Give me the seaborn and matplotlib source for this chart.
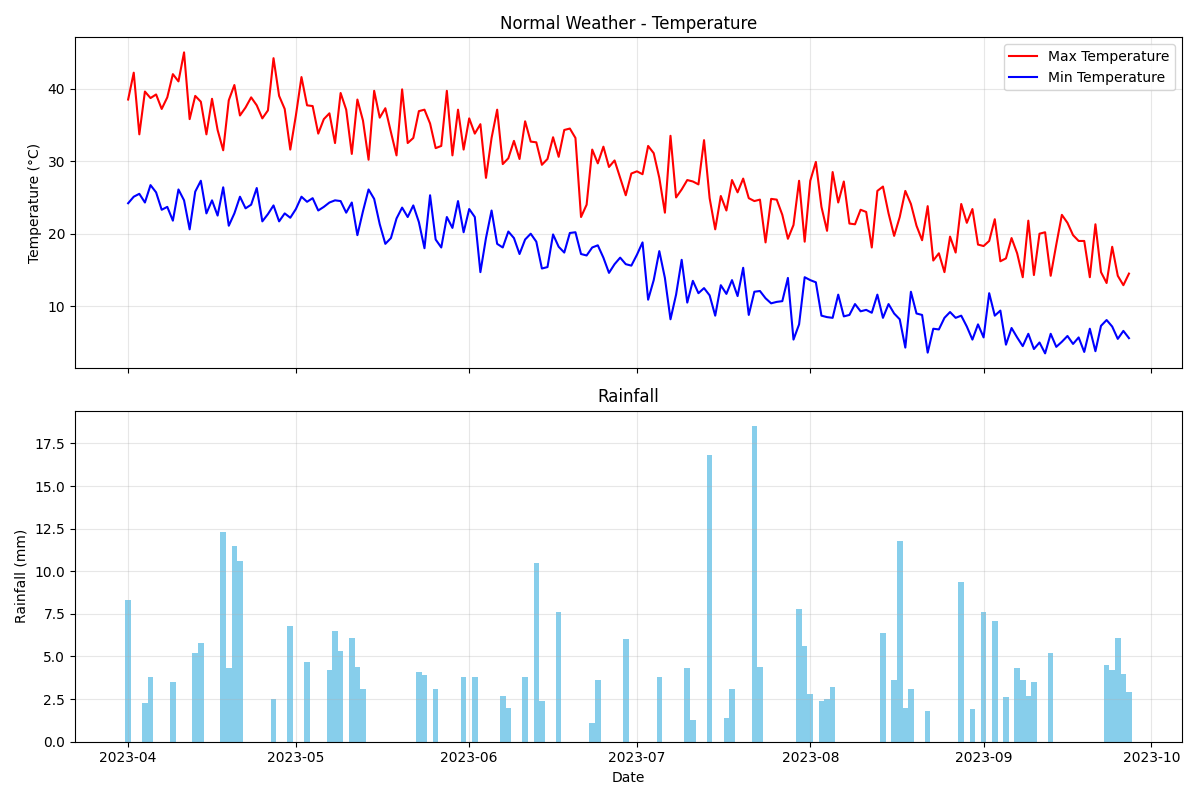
import pandas as pd
import matplotlib
matplotlib.use("Agg")
import matplotlib.pyplot as plt
import seaborn as sns

dates = pd.date_range("2023-04-01", periods=180, freq="D")

max_temp = [
    38.5, 42.2, 33.7, 39.6, 38.7, 39.2, 37.2, 38.8, 42.0, 41.0,
    45.0, 35.8, 39.0, 38.2, 33.7, 38.6, 34.3, 31.5, 38.4, 40.5,
    36.3, 37.4, 38.8, 37.7, 35.9, 37.0, 44.2, 39.0, 37.2, 31.6,
    36.3, 41.6, 37.7, 37.6, 33.8, 35.8, 36.6, 32.5, 39.4, 37.1,
    31.0, 38.5, 35.6, 30.2, 39.7, 36.0, 37.3, 34.0, 30.8, 39.9,
    32.5, 33.2, 36.9, 37.1, 35.2, 31.8, 32.1, 39.7, 30.8, 37.1,
    31.6, 35.9, 33.8, 35.1, 27.7, 33.2, 37.1, 29.6, 30.4, 32.8,
    30.3, 35.5, 32.7, 32.6, 29.5, 30.3, 33.3, 30.6, 34.3, 34.5,
    33.2, 22.3, 24.0, 31.6, 29.7, 32.0, 29.2, 30.1, 27.7, 25.3,
    28.3, 28.6, 28.2, 32.1, 31.1, 27.7, 22.9, 33.5, 25.0, 26.1,
    27.4, 27.2, 26.8, 32.9, 24.9, 20.6, 25.2, 23.2, 27.4, 25.7,
    27.6, 24.9, 24.5, 24.7, 18.8, 24.8, 24.7, 22.6, 19.3, 21.2,
    27.3, 18.9, 27.3, 29.9, 23.7, 20.4, 28.5, 24.3, 27.2, 21.4,
    21.3, 23.3, 23.0, 18.1, 25.9, 26.5, 22.8, 19.7, 22.3, 25.9,
    24.1, 21.1, 19.1, 23.8, 16.3, 17.3, 14.7, 19.6, 17.4, 24.1,
    21.5, 23.4, 18.5, 18.3, 19.0, 22.0, 16.2, 16.6, 19.4, 17.3,
    14.0, 21.8, 14.3, 20.0, 20.2, 14.2, 18.5, 22.6, 21.5, 19.8,
    19.0, 19.0, 14.0, 21.3, 14.7, 13.2, 18.2, 14.2, 12.9, 14.5,
]

min_temp = [
    24.2, 25.1, 25.5, 24.3, 26.7, 25.7, 23.3, 23.7, 21.8, 26.1,
    24.6, 20.6, 25.8, 27.3, 22.8, 24.6, 22.5, 26.4, 21.1, 22.8,
    25.1, 23.5, 24.0, 26.3, 21.7, 22.7, 23.9, 21.7, 22.8, 22.2,
    23.4, 25.1, 24.4, 24.9, 23.2, 23.7, 24.3, 24.6, 24.5, 22.9,
    24.3, 19.8, 23.1, 26.1, 24.8, 21.3, 18.6, 19.4, 22.1, 23.6,
    22.3, 23.9, 21.6, 18.0, 25.3, 19.2, 18.1, 22.3, 20.8, 24.5,
    20.2, 23.4, 22.3, 14.7, 19.4, 23.2, 18.6, 18.1, 20.3, 19.4,
    17.2, 19.2, 20.0, 18.9, 15.2, 15.4, 19.9, 18.2, 17.4, 20.1,
    20.2, 17.2, 17.0, 18.1, 18.4, 16.7, 14.6, 15.8, 16.7, 15.8,
    15.6, 17.1, 18.8, 10.9, 13.6, 17.6, 13.9, 8.2, 11.6, 16.4,
    10.5, 13.5, 11.8, 12.5, 11.5, 8.7, 12.9, 11.7, 13.6, 11.4,
    15.3, 8.8, 12.0, 12.1, 11.1, 10.4, 10.6, 10.7, 13.9, 5.4,
    7.5, 14.0, 13.6, 13.3, 8.7, 8.5, 8.4, 11.6, 8.6, 8.8,
    10.3, 9.3, 9.5, 9.1, 11.6, 8.4, 10.3, 9.0, 8.2, 4.3,
    12.0, 9.0, 8.8, 3.6, 6.9, 6.8, 8.4, 9.2, 8.4, 8.7,
    7.2, 5.4, 7.5, 5.7, 11.8, 8.7, 9.4, 4.7, 7.0, 5.7,
    4.5, 6.2, 4.1, 5.0, 3.5, 6.2, 4.4, 5.1, 5.9, 4.8,
    5.7, 3.7, 6.9, 3.8, 7.3, 8.1, 7.2, 5.5, 6.6, 5.6,
]

# rainy days (day index from 2023-04-01) and amounts in mm
rain_days = [0, 3, 4, 8, 12, 13, 17, 18, 19, 20, 26, 29, 32, 36, 37, 38, 40, 41, 42,
             52, 53, 55, 60, 62, 67, 68, 71, 73, 74, 77, 83, 84, 89, 95, 100, 101,
             104, 107, 108, 112, 113, 120, 121, 122, 124, 125, 126, 135, 137, 138,
             139, 140, 143, 149, 151, 153, 155, 157, 159, 160, 161, 162, 165,
             175, 176, 177, 178, 179]
rain_mm = [8.3, 2.3, 3.8, 3.5, 5.2, 5.8, 12.3, 4.3, 11.5, 10.6, 2.5, 6.8, 4.7, 4.2, 6.5, 5.3, 6.1, 4.4, 3.1,
           4.1, 3.9, 3.1, 3.8, 3.8, 2.7, 2.0, 3.8, 10.5, 2.4, 7.6, 1.1, 3.6, 6.0, 3.8, 4.3, 1.3,
           16.8, 1.4, 3.1, 18.5, 4.4, 7.8, 5.6, 2.8, 2.4, 2.5, 3.2, 6.4, 3.6, 11.8,
           2.0, 3.1, 1.8, 9.4, 1.9, 7.6, 7.1, 2.6, 4.3, 3.6, 2.7, 3.5, 5.2,
           4.5, 4.2, 6.1, 4.0, 2.9]

rainfall = [0.0] * len(dates)
for d, r in zip(rain_days, rain_mm):
    rainfall[d] = r

df = pd.DataFrame({"date": dates, "max": max_temp, "min": min_temp, "rain": rainfall})

fig, (ax1, ax2) = plt.subplots(2, 1, figsize=(12, 8), dpi=100, sharex=True)

sns.lineplot(data=df, x="date", y="max", ax=ax1, color="red", label="Max Temperature")
sns.lineplot(data=df, x="date", y="min", ax=ax1, color="blue", label="Min Temperature")
ax1.set_title("Normal Weather - Temperature")
ax1.set_ylabel("Temperature (°C)")
ax1.set_xlabel("")
ax1.legend(loc="upper right")
ax1.grid(True, alpha=0.3)

ax2.bar(df["date"], df["rain"], color="skyblue", width=1.0)
ax2.set_title("Rainfall")
ax2.set_ylabel("Rainfall (mm)")
ax2.set_xlabel("Date")
ax2.grid(True, alpha=0.3)

plt.tight_layout()
plt.savefig("out.png")
